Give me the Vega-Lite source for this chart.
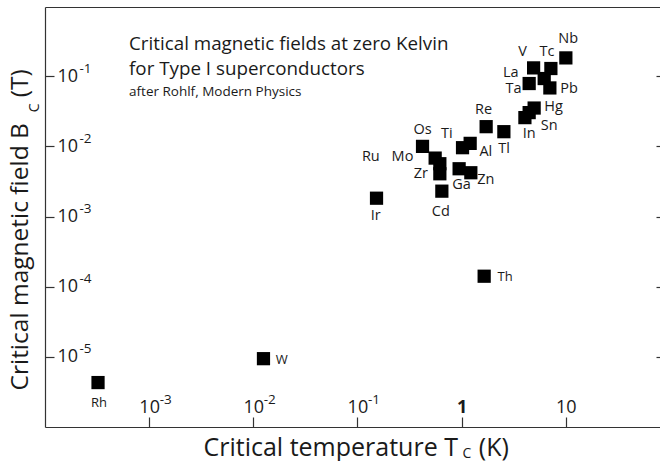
{
  "$schema": "https://vega.github.io/schema/vega-lite/v6.json",
  "width": 615,
  "height": 420,
  "autosize": {"type": "none"},
  "padding": {"left": 45, "top": 7, "right": 0, "bottom": 34},
  "background": "white",
  "config": {
    "view": {"stroke": null},
    "font": "Open Sans",
    "axis": {
      "grid": false,
      "domainColor": "#333333",
      "domainWidth": 1.2,
      "tickColor": "#333333",
      "tickWidth": 1.2,
      "labelColor": "#1a1a1a",
      "titleColor": "#1a1a1a",
      "labelFont": "Open Sans",
      "titleFont": "Open Sans",
      "titleFontWeight": "normal",
      "labelOverlap": false,
      "labelFlush": false,
      "labelBound": false
    }
  },
  "datasets": {
    "elements": [
      {"el": "Rh", "tc": 0.000323, "bc": 0.0000043, "lx": 0.00033, "ly": 0.00000222},
      {"el": "W", "tc": 0.01253, "bc": 0.00000942, "lx": 0.01878, "ly": 0.00000906},
      {"el": "Th", "tc": 1.649, "bc": 0.000141, "lx": 2.62, "ly": 0.000139},
      {"el": "Ir", "tc": 0.1526, "bc": 0.001825, "lx": 0.15, "ly": 0.001033},
      {"el": "Cd", "tc": 0.647, "bc": 0.0023, "lx": 0.633, "ly": 0.00115},
      {"el": "Os", "tc": 0.422, "bc": 0.01, "lx": 0.422, "ly": 0.01693},
      {"el": "Mo", "tc": 0.558, "bc": 0.00681, "lx": 0.271, "ly": 0.00703},
      {"el": "Ru", "tc": 0.619, "bc": 0.00566, "lx": 0.1345, "ly": 0.00703},
      {"el": "Zr", "tc": 0.619, "bc": 0.00407, "lx": 0.4064, "ly": 0.00398},
      {"el": "Ga", "tc": 0.948, "bc": 0.0048, "lx": 1.0, "ly": 0.00277},
      {"el": "Zn", "tc": 1.228, "bc": 0.00421, "lx": 1.712, "ly": 0.00334},
      {"el": "Ti", "tc": 1.022, "bc": 0.00958, "lx": 0.722, "ly": 0.01518},
      {"el": "Al", "tc": 1.21, "bc": 0.01104, "lx": 1.712, "ly": 0.0083},
      {"el": "Re", "tc": 1.723, "bc": 0.0191, "lx": 1.627, "ly": 0.0334},
      {"el": "Tl", "tc": 2.55, "bc": 0.0162, "lx": 2.567, "ly": 0.00927},
      {"el": "In", "tc": 4.06, "bc": 0.0257, "lx": 4.46, "ly": 0.01518},
      {"el": "Sn", "tc": 4.46, "bc": 0.0303, "lx": 6.94, "ly": 0.0195},
      {"el": "Hg", "tc": 4.98, "bc": 0.0352, "lx": 7.65, "ly": 0.0364},
      {"el": "Ta", "tc": 4.46, "bc": 0.0787, "lx": 3.159, "ly": 0.0652},
      {"el": "Pb", "tc": 7.05, "bc": 0.0681, "lx": 10.8, "ly": 0.0667},
      {"el": "La", "tc": 6.22, "bc": 0.0927, "lx": 2.976, "ly": 0.1129},
      {"el": "V", "tc": 4.92, "bc": 0.1315, "lx": 3.855, "ly": 0.2183},
      {"el": "Tc", "tc": 7.21, "bc": 0.1288, "lx": 6.6, "ly": 0.2183},
      {"el": "Nb", "tc": 10.04, "bc": 0.1825, "lx": 10.57, "ly": 0.3377}
    ],
    "notes": [
      {"t": "Critical magnetic fields at zero Kelvin", "ax": 0.000641, "ay": 0.2404, "k": "head"},
      {"t": "for Type I superconductors", "ax": 0.000641, "ay": 0.1057, "k": "head"},
      {"t": "after Rohlf, Modern Physics", "ax": 0.000641, "ay": 0.0518, "k": "sub"}
    ]
  },
  "resolve": {"axis": {"x": "independent", "y": "independent"}},
  "layer": [
    {
      "data": {"name": "elements"},
      "mark": {"type": "square", "size": 175, "color": "black", "opacity": 1, "filled": true},
      "encoding": {
        "x": {
          "field": "tc", "type": "quantitative",
          "scale": {"type": "log", "domain": [0.0001, 80.5], "nice": false},
          "axis": {
            "orient": "bottom", "values": [0.001, 0.01, 0.1, 1, 10],
            "offset": -10, "tickSize": 10, "domain": false,
            "labelExpr": "datum.value == 1 ? '1' : '10'",
            "labelFontSize": 18,
            "labelFontWeight": {"condition": {"test": "datum.value == 1", "value": "bold"}, "value": "normal"},
            "labelAlign": "center", "labelBaseline": "alphabetic", "labelPadding": -15,
            "title": "Critical temperature T", "titleFontSize": 25,
            "titleAlign": "left", "titleBaseline": "alphabetic",
            "titleX": 158, "titleY": 38
          }
        },
        "y": {
          "field": "bc", "type": "quantitative",
          "scale": {"type": "log", "domain": [0.000001, 0.97], "nice": false},
          "axis": {
            "orient": "left", "values": [0.00001, 0.0001, 0.001, 0.01, 0.1],
            "offset": -9, "tickSize": 9, "domain": false,
            "labelExpr": "'10'", "labelFontSize": 18,
            "labelAlign": "left", "labelBaseline": "alphabetic",
            "labelOffset": 5, "labelPadding": -12,
            "title": "Critical magnetic field B", "titleFontSize": 24.5,
            "titleAngle": 270, "titleAlign": "left", "titleBaseline": "alphabetic",
            "titleX": -27, "titleY": 383
          }
        }
      }
    },
    {
      "data": {"name": "elements"},
      "mark": {"type": "text", "align": "center", "baseline": "middle", "font": "Open Sans", "color": "#1a1a1a"},
      "encoding": {
        "x": {
          "field": "lx", "type": "quantitative",
          "scale": {"type": "log", "domain": [0.0001, 80.5], "nice": false},
          "axis": {
            "orient": "bottom", "values": [0.001, 0.01, 0.1],
            "ticks": false, "tickSize": 0, "domain": true,
            "labelExpr": "'-' + abs(round(log(datum.value) / LN10))",
            "labelFontSize": 13.5, "labelAlign": "left", "labelBaseline": "alphabetic",
            "labelPadding": -23.5, "labelOffset": 10,
            "title": "C", "titleFontSize": 14,
            "titleAlign": "left", "titleBaseline": "alphabetic",
            "titleX": 417, "titleY": 30.5
          }
        },
        "y": {
          "field": "ly", "type": "quantitative",
          "scale": {"type": "log", "domain": [0.000001, 0.97], "nice": false},
          "axis": {
            "orient": "left", "values": [0.00001, 0.0001, 0.001, 0.01, 0.1],
            "ticks": false, "tickSize": 0, "domain": true,
            "labelExpr": "'-' + abs(round(log(datum.value) / LN10))",
            "labelFontSize": 13.5, "labelAlign": "left", "labelBaseline": "alphabetic",
            "labelOffset": -4, "labelPadding": -34,
            "title": "C", "titleFontSize": 14,
            "titleAngle": 270, "titleAlign": "left", "titleBaseline": "alphabetic",
            "titleX": -6.5, "titleY": 104.7
          }
        },
        "text": {"field": "el", "type": "nominal"},
        "size": {"condition": {"test": "indexof(['Rh','W','Th'], datum.el) >= 0", "value": 13}, "value": 14.5}
      }
    },
    {
      "data": {"name": "notes"},
      "mark": {"type": "text", "align": "left", "baseline": "alphabetic", "font": "Open Sans", "color": "#1a1a1a"},
      "encoding": {
        "x": {
          "field": "ax", "type": "quantitative",
          "scale": {"type": "log", "domain": [0.0001, 80.5], "nice": false},
          "axis": {
            "orient": "top", "ticks": false, "labels": false, "domain": true,
            "title": "(K)", "titleFontSize": 25,
            "titleAlign": "left", "titleBaseline": "alphabetic",
            "titleX": 433.3, "titleY": 448
          }
        },
        "y": {
          "field": "ay", "type": "quantitative",
          "scale": {"type": "log", "domain": [0.000001, 0.97], "nice": false},
          "axis": {
            "orient": "right", "values": [0.00001, 0.0001, 0.001, 0.01, 0.1],
            "offset": -4, "tickSize": 4, "domain": false, "labels": false,
            "title": "(T)", "titleFontSize": 24.5,
            "titleAngle": 270, "titleAlign": "left", "titleBaseline": "alphabetic",
            "titleX": -629, "titleY": 89.7
          }
        },
        "text": {"field": "t", "type": "nominal"},
        "size": {"field": "k", "type": "nominal", "scale": {"domain": ["head", "sub"], "range": [18.8, 13.5]}, "legend": null}
      }
    }
  ]
}
